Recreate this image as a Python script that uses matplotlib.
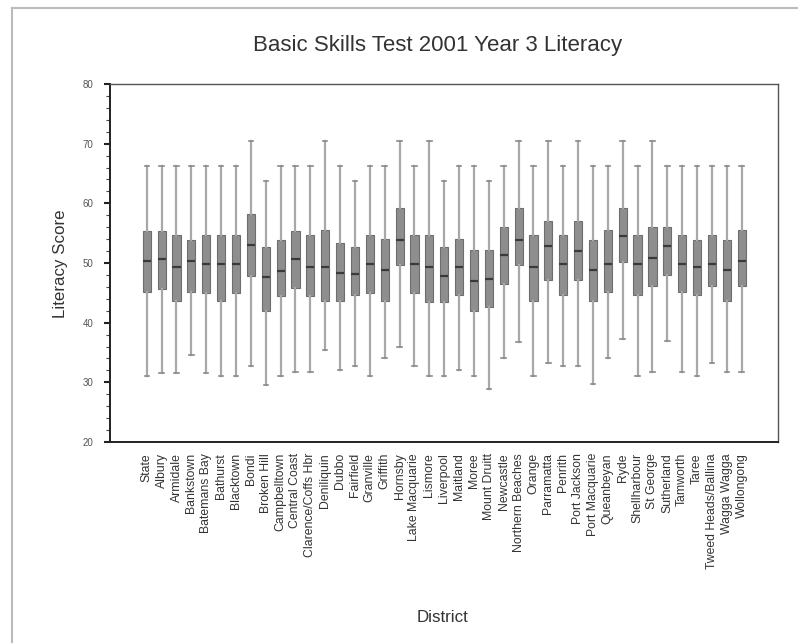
import matplotlib
matplotlib.use("Agg")
import matplotlib.pyplot as plt
from matplotlib.lines import Line2D

plt.rcParams['font.family'] = ['Liberation Sans', 'DejaVu Sans']

districts = ["State", "Albury", "Armidale", "Bankstown", "Batemans Bay", "Bathurst",
             "Blacktown", "Bondi", "Broken Hill", "Campbelltown", "Central Coast",
             "Clarence/Coffs Hbr", "Deniliquin", "Dubbo", "Fairfield", "Granville",
             "Griffith", "Hornsby", "Lake Macquarie", "Lismore", "Liverpool", "Maitland",
             "Moree", "Mount Druitt", "Newcastle", "Northern Beaches", "Orange",
             "Parramatta", "Penrith", "Port Jackson", "Port Macquarie", "Queanbeyan",
             "Ryde", "Shellharbour", "St George", "Sutherland", "Tamworth", "Taree",
             "Tweed Heads/Ballina", "Wagga Wagga", "Wollongong"]

whisker_high = [66.3, 66.3, 66.3, 66.3, 66.3, 66.3, 66.3, 70.4, 63.7, 66.3, 66.3, 66.3, 70.4, 66.3,
                63.7, 66.3, 66.3, 70.4, 66.3, 70.4, 63.7, 66.3, 66.3, 63.7, 66.3, 70.4, 66.3,
                70.4, 66.3, 70.4, 66.3, 66.3, 70.4, 66.3, 70.4, 66.3, 66.3, 66.3, 66.3, 66.3, 66.3]
q3 = [55.3, 55.3, 54.7, 53.9, 54.7, 54.7, 54.7, 58.2, 52.6, 53.9, 55.3, 54.7, 55.6, 53.3,
      52.6, 54.7, 54.0, 59.2, 54.7, 54.7, 52.6, 54.0, 52.1, 52.1, 56.1, 59.2, 54.7,
      57.1, 54.7, 57.1, 53.9, 55.6, 59.2, 54.7, 56.1, 56.1, 54.7, 53.9, 54.7, 53.9, 55.6]
medians = [50.3, 50.7, 49.4, 50.3, 49.8, 49.8, 49.8, 53.0, 47.7, 48.7, 50.7, 49.4, 49.4, 48.3,
           48.2, 49.8, 48.8, 53.9, 49.8, 49.4, 47.8, 49.4, 46.9, 47.3, 51.4, 53.9, 49.4,
           52.9, 49.8, 52.0, 48.9, 49.8, 54.6, 49.8, 50.8, 52.9, 49.8, 49.4, 49.8, 48.9, 50.4]
q1 = [45.1, 45.6, 43.7, 45.1, 44.9, 43.7, 44.9, 47.9, 42.0, 44.4, 45.8, 44.4, 43.7, 43.7,
      44.6, 45.0, 43.6, 49.7, 45.0, 43.5, 43.5, 44.6, 42.0, 42.6, 46.5, 49.7, 43.7,
      47.1, 44.7, 47.1, 43.7, 45.1, 50.2, 44.7, 46.1, 48.0, 45.1, 44.7, 46.1, 43.7, 46.1]
whisker_low = [31.0, 31.6, 31.6, 34.6, 31.6, 31.0, 31.0, 32.7, 29.6, 31.0, 31.7, 31.7, 35.5, 32.0,
               32.7, 31.0, 34.1, 35.9, 32.7, 31.0, 31.0, 32.0, 31.0, 28.8, 34.1, 36.8, 31.0,
               33.3, 32.8, 32.8, 29.8, 34.1, 37.3, 31.0, 31.8, 36.9, 31.8, 31.0, 33.2, 31.8, 31.8]

stats = []
for name, wl, a, m, b, wh in zip(districts, whisker_low, q1, medians, q3, whisker_high):
    stats.append(dict(label=name, whislo=wl, q1=a, med=m, q3=b, whishi=wh, fliers=[]))

fig = plt.figure(figsize=(7.98, 6.43), dpi=100)
ax = fig.add_axes([110/798, 1 - 442/643, (778 - 110)/798, (442 - 84)/643])

positions = list(range(len(districts)))
ax.bxp(stats, positions=positions, widths=0.55, patch_artist=True, showfliers=False,
       boxprops=dict(facecolor='#8e8e8e', edgecolor='#6e6e6e', linewidth=0.8),
       whiskerprops=dict(color='#a8a8a8', linewidth=1.6),
       capprops=dict(color='#8a8a8a', linewidth=1.2),
       capwidths=0.3,
       medianprops=dict(color='#3a3a3a', linewidth=1.6))

ax.set_xlim(-2.47, 42.44)
ax.set_ylim(20, 80)
ax.set_yticks([20, 30, 40, 50, 60, 70, 80])
ax.set_yticks(range(20, 81, 2), minor=True)
ax.tick_params(axis='y', which='major', length=4, width=1.5, labelsize=7,
               labelcolor='#555555', color='#222222', pad=8)
ax.tick_params(axis='y', which='minor', length=3, width=0.8, color='#444444')
ax.set_xticks(positions)
ax.set_xticklabels(districts, rotation=90, fontsize=8.8, color='#333333')
ax.tick_params(axis='x', length=0, pad=8)

for side in ['top', 'right']:
    ax.spines[side].set_color('#555555')
    ax.spines[side].set_linewidth(1.0)
for side in ['left', 'bottom']:
    ax.spines[side].set_color('#222222')
    ax.spines[side].set_linewidth(1.4)

fig.text(438/798, 1 - 45/643, "Basic Skills Test 2001 Year 3 Literacy",
         ha='center', va='center', fontsize=16, color='#333333')
fig.text(61/798, 1 - 264/643, "Literacy Score", rotation=90,
         ha='center', va='center', fontsize=12.2, color='#333333')
fig.text(443/798, 1 - 618/643, "District",
         ha='center', va='center', fontsize=12.2, color='#333333')

# scanned page frame
fig.add_artist(Line2D([12/798, 1], [1 - 8/643, 1 - 8/643], transform=fig.transFigure,
                      color='#bbbbbb', linewidth=1.5))
fig.add_artist(Line2D([12/798, 12/798], [0, 1 - 8/643], transform=fig.transFigure,
                      color='#bbbbbb', linewidth=1.5))

fig.savefig("out.png", dpi=100, facecolor='white')
